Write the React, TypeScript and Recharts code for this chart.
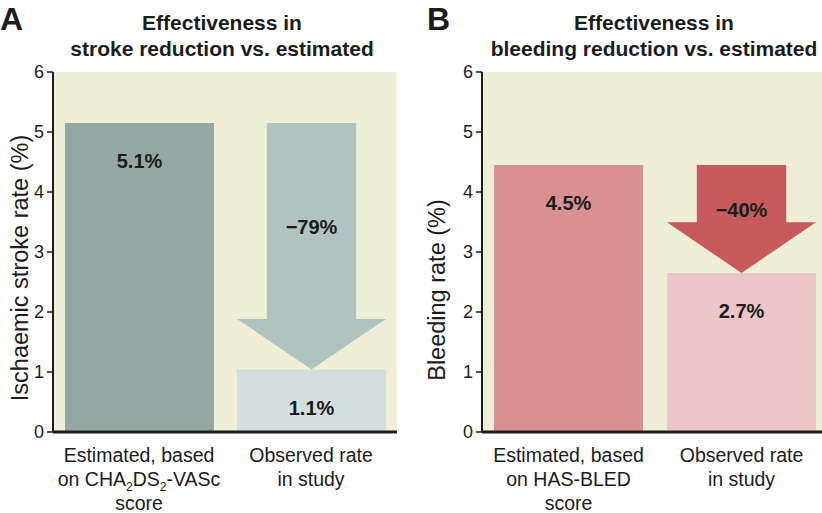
import React from "react";
import { BarChart, Bar, XAxis, YAxis, CartesianGrid, LabelList } from "recharts";

// Panel A: ischaemic stroke
const strokeCategories = ["Estimated", "Observed"];
const strokeRates = [5.15, 1.04];
const strokeLabels = ["5.1%", "1.1%"];
const strokeChange = "\u221279%";
const strokeTickLines = [
  ["Estimated, based", "on CHA_2DS_2-VASc", "score"],
  ["Observed rate", "in study"],
];

// Panel B: bleeding
const bleedingCategories = ["Estimated", "Observed"];
const bleedingRates = [4.45, 2.65];
const bleedingLabels = ["4.5%", "2.7%"];
const bleedingChange = "\u221240%";
const bleedingTickLines = [
  ["Estimated, based", "on HAS-BLED", "score"],
  ["Observed rate", "in study"],
];

const yTicks = [0, 1, 2, 3, 4, 5, 6];

const FONT = "'Liberation Sans', Arial, sans-serif";
const BG = "#efefd7";
const INK = "#1c1c1c";

// builds the table recharts needs; arrow is a range bar from observed up to estimated
function buildRows(cats: string[], rates: number[], labels: string[], change: string) {
  return cats.map((name, i) => ({
    name,
    rate: rates[i],
    label: labels[i],
    arrow: i === 1 ? [rates[1], rates[0]] : null,
    change: i === 1 ? change : null,
  }));
}

// "_2" marks a subscript 2
function TickLine({ text, y }: { text: string; y: number }) {
  const parts = text.split(/(_\d)/).filter(Boolean);
  return (
    <text x={0} y={y} textAnchor="middle" fontFamily={FONT} fontSize={19.5} fill={INK}>
      {parts.map((p, i) =>
        p.startsWith("_") ? (
          <tspan key={i} fontSize={12} dy={5}>
            {p.slice(1)}
          </tspan>
        ) : (
          <tspan key={i} dy={i > 0 && parts[i - 1].startsWith("_") ? -5 : 0}>
            {p}
          </tspan>
        )
      )}
    </text>
  );
}

function CategoryTick(props: any) {
  const { x, y, payload, lines } = props;
  const rows: string[] = lines[payload.index] || [];
  return (
    <g transform={`translate(${x},${y})`}>
      {rows.map((r, i) => (
        <TickLine key={i} text={r} y={22 + i * 24} />
      ))}
    </g>
  );
}

function BarText(props: any) {
  const { x, y, width, value } = props;
  if (value == null) return null;
  return (
    <text
      x={x + width / 2}
      y={y + 38}
      textAnchor="middle"
      dominantBaseline="central"
      fontFamily={FONT}
      fontWeight="bold"
      fontSize={20}
      fill={INK}
    >
      {value}
    </text>
  );
}

function ArrowText(props: any) {
  const { x, y, width, height, value } = props;
  if (value == null) return null;
  return (
    <text
      x={x + width / 2}
      y={y + height * 0.42}
      textAnchor="middle"
      dominantBaseline="central"
      fontFamily={FONT}
      fontWeight="bold"
      fontSize={20}
      fill={INK}
    >
      {value}
    </text>
  );
}

function ArrowShape(props: any) {
  const { x, y, width, height, fill } = props;
  if (!height || height <= 0) return null;
  const head = width * 0.34;
  const left = x + width * 0.2;
  const right = x + width * 0.8;
  const neck = y + height - head;
  const pts = [
    [left, y],
    [right, y],
    [right, neck],
    [x + width, neck],
    [x + width / 2, y + height],
    [x, neck],
    [left, neck],
  ]
    .map((p) => p.join(","))
    .join(" ");
  return <polygon points={pts} fill={fill} />;
}

function Panel({
  rows,
  width,
  yAxisWidth,
  rightMargin,
  yLabel,
  yLabelX,
  yLabelShift,
  tickLines,
  colors,
  arrowColor,
}: any) {
  return (
    <BarChart
      width={width}
      height={513}
      data={rows}
      margin={{ top: 72, right: rightMargin, bottom: 0, left: 0 }}
      barSize={149}
    >
      <CartesianGrid fill={BG} stroke="none" horizontal={false} vertical={false} />
      <XAxis
        xAxisId="main"
        dataKey="name"
        height={81}
        interval={0}
        tickLine={false}
        axisLine={{ stroke: INK, strokeWidth: 3 }}
        tick={<CategoryTick lines={tickLines} />}
      />
      <XAxis xAxisId="arrow" dataKey="name" hide height={0} />
      <YAxis
        domain={[0, 6]}
        ticks={yTicks}
        width={yAxisWidth}
        tickSize={6}
        tickMargin={3}
        axisLine={{ stroke: INK, strokeWidth: 2 }}
        tickLine={{ stroke: INK, strokeWidth: 1.5 }}
        tick={{ fontFamily: FONT, fontSize: 18, fill: INK }}
        label={{
          content: (p: any) => {
            const vb = p.viewBox;
            const cx = yLabelX;
            const cy = vb.y + vb.height / 2 + yLabelShift;
            return (
              <text
                x={cx}
                y={cy}
                transform={`rotate(-90 ${cx} ${cy})`}
                textAnchor="middle"
                dominantBaseline="central"
                fontFamily={FONT}
                fontSize={23.5}
                fill={INK}
              >
                {yLabel}
              </text>
            );
          },
        }}
      />
      <Bar xAxisId="main" dataKey="rate" isAnimationActive={false} shape={(p: any) => (
        <rect x={p.x} y={p.y} width={p.width} height={p.height} fill={colors[p.index]} />
      )}>
        <LabelList dataKey="label" content={<BarText />} />
      </Bar>
      <Bar
        xAxisId="arrow"
        dataKey="arrow"
        fill={arrowColor}
        isAnimationActive={false}
        shape={<ArrowShape />}
      >
        <LabelList dataKey="change" content={<ArrowText />} />
      </Bar>
    </BarChart>
  );
}

export default function App() {
  const rowsA = buildRows(strokeCategories, strokeRates, strokeLabels, strokeChange);
  const rowsB = buildRows(bleedingCategories, bleedingRates, bleedingLabels, bleedingChange);
  return (
    <div style={{ position: "fixed", left: 0, top: 0, width: 822, height: 513, background: "#fff", overflow: "hidden" }}>
      <div style={{ position: "absolute", left: 0, top: 0 }}>
        <Panel
          rows={rowsA}
          width={410}
          yAxisWidth={53}
          rightMargin={13}
          yLabel="Ischaemic stroke rate (%)"
          yLabelX={20}
          yLabelShift={16}
          tickLines={strokeTickLines}
          colors={["#93a8a3", "#d2dfde"]}
          arrowColor="#b1c3c1"
        />
      </div>
      <div style={{ position: "absolute", left: 410, top: 0 }}>
        <Panel
          rows={rowsB}
          width={412}
          yAxisWidth={72}
          rightMargin={-6}
          yLabel="Bleeding rate (%)"
          yLabelX={27}
          yLabelShift={38}
          tickLines={bleedingTickLines}
          colors={["#d89090", "#ecc6c6"]}
          arrowColor="#c65a5c"
        />
      </div>
      <svg
        width={822}
        height={513}
        style={{ position: "absolute", left: 0, top: 0, pointerEvents: "none" }}
      >
        <g fontFamily={FONT} fontWeight="bold" fill={INK}>
          <text x={0} y={30} fontSize={32}>A</text>
          <text x={427} y={30} fontSize={32}>B</text>
          <text x={222} y={30} fontSize={21} textAnchor="middle">Effectiveness in</text>
          <text x={222} y={56} fontSize={21} textAnchor="middle">stroke reduction vs. estimated</text>
          <text x={654} y={30} fontSize={21} textAnchor="middle">Effectiveness in</text>
          <text x={654} y={56} fontSize={21} textAnchor="middle">bleeding reduction vs. estimated</text>
        </g>
      </svg>
    </div>
  );
}
